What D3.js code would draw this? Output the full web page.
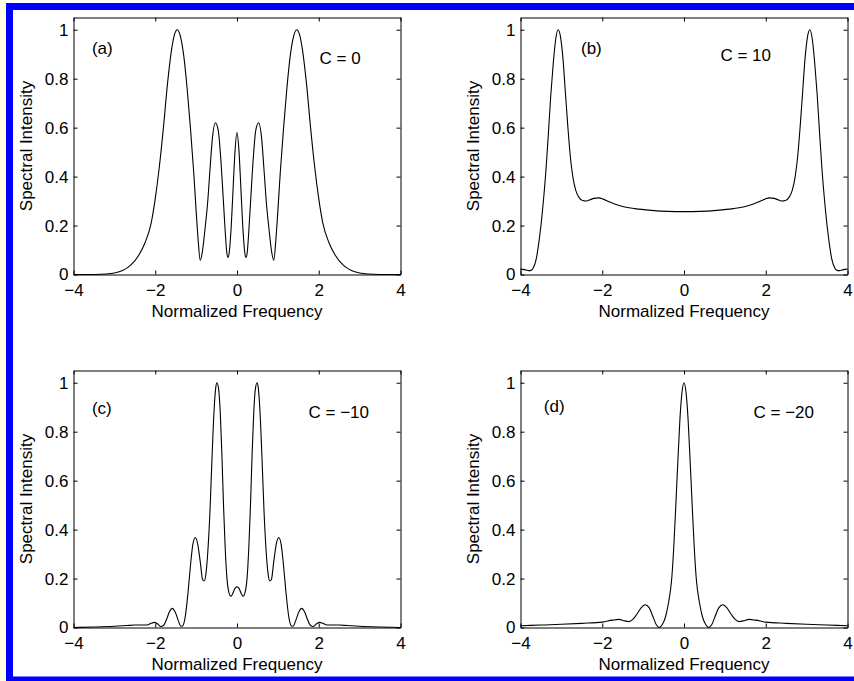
<!DOCTYPE html>
<html>
<head>
<meta charset="utf-8">
<script src="https://cdn.jsdelivr.net/npm/d3@7"></script>
<style>
  html, body { margin: 0; padding: 0; background: #fff; }
  svg { display: block; }
  text { font-family: "Liberation Sans", Arial, Helvetica, sans-serif; fill: #000; }
</style>
</head>
<body>
<svg id="chart" width="854" height="681"></svg>
<script>
// ---------------- data ----------------
const xTicks = [-4, -2, 0, 2, 4];
const yTicks = [0, 0.2, 0.4, 0.6, 0.8, 1];
const xTickLabels = ["\u22124", "\u22122", "0", "2", "4"];
const yTickLabels = ["0", "0.2", "0.4", "0.6", "0.8", "1"];
const panelTags = ["(a)", "(b)", "(c)", "(d)"];
const chirpLabels = ["C = 0", "C = 10", "C = \u221210", "C = \u221220"];
const xTitle = "Normalized Frequency";
const yTitle = "Spectral Intensity";

// Panel (a) C = 0
const freqA = [-4.0, -3.5, -3.2, -3.0, -2.8, -2.6, -2.4, -2.25, -2.1, -2.0, -1.9, -1.8, -1.7, -1.6, -1.53, -1.46, -1.38, -1.3, -1.22, -1.14, -1.06, -1.0, -0.95, -0.9, -0.85, -0.78, -0.72, -0.66, -0.6, -0.53, -0.46, -0.4, -0.34, -0.29, -0.25, -0.22, -0.19, -0.14, -0.09, -0.05, 0,
               0.05, 0.09, 0.14, 0.19, 0.22, 0.25, 0.29, 0.34, 0.4, 0.46, 0.53, 0.6, 0.66, 0.72, 0.78, 0.85, 0.9, 0.95, 1.0, 1.06, 1.14, 1.22, 1.3, 1.38, 1.46, 1.53, 1.6, 1.7, 1.8, 1.9, 2.0, 2.1, 2.25, 2.4, 2.6, 2.8, 3.0, 3.2, 3.5, 4.0];
const specA = [0, 0.0003, 0.002, 0.006, 0.016, 0.038, 0.08, 0.13, 0.21, 0.31, 0.44, 0.60, 0.78, 0.92, 0.98, 1.0, 0.97, 0.89, 0.76, 0.60, 0.42, 0.26, 0.14, 0.058, 0.09, 0.19, 0.29, 0.43, 0.56, 0.62, 0.59, 0.48, 0.32, 0.18, 0.09, 0.07, 0.09, 0.2, 0.37, 0.5, 0.58,
               0.5, 0.37, 0.2, 0.09, 0.07, 0.09, 0.18, 0.32, 0.48, 0.59, 0.62, 0.56, 0.43, 0.29, 0.19, 0.09, 0.058, 0.14, 0.26, 0.42, 0.60, 0.76, 0.89, 0.97, 1.0, 0.98, 0.92, 0.78, 0.60, 0.44, 0.31, 0.21, 0.13, 0.08, 0.038, 0.016, 0.006, 0.002, 0.0003, 0];

// Panel (b) C = 10
const freqB = [-4.0, -3.9, -3.8, -3.74, -3.68, -3.62, -3.56, -3.5, -3.44, -3.38, -3.32, -3.26, -3.2, -3.14, -3.08, -3.02, -2.96, -2.9, -2.84, -2.78, -2.72, -2.65, -2.57, -2.48, -2.4, -2.32, -2.2, -2.09, -1.98, -1.85, -1.7, -1.5, -1.2, -0.8, -0.4, 0,
               0.4, 0.8, 1.2, 1.5, 1.7, 1.85, 1.98, 2.09, 2.2, 2.32, 2.4, 2.48, 2.57, 2.65, 2.72, 2.78, 2.84, 2.9, 2.96, 3.02, 3.08, 3.14, 3.2, 3.26, 3.32, 3.38, 3.44, 3.5, 3.56, 3.62, 3.68, 3.74, 3.8, 3.9, 4.0];
const specB = [0.022, 0.02, 0.016, 0.017, 0.03, 0.06, 0.12, 0.2, 0.3, 0.42, 0.57, 0.73, 0.86, 0.96, 1.0, 0.97, 0.88, 0.74, 0.6, 0.48, 0.4, 0.345, 0.315, 0.302, 0.3, 0.304, 0.311, 0.313, 0.308, 0.298, 0.288, 0.278, 0.269, 0.262, 0.258, 0.257,
               0.258, 0.262, 0.269, 0.278, 0.288, 0.298, 0.308, 0.313, 0.311, 0.304, 0.3, 0.302, 0.315, 0.345, 0.4, 0.48, 0.6, 0.74, 0.88, 0.97, 1.0, 0.96, 0.86, 0.73, 0.57, 0.42, 0.3, 0.2, 0.12, 0.06, 0.03, 0.017, 0.016, 0.02, 0.022];

// Panel (c) C = -10
const freqC = [-4.0, -3.5, -3.0, -2.7, -2.5, -2.35, -2.2, -2.1, -2.02, -1.94, -1.86, -1.8, -1.72, -1.65, -1.58, -1.51, -1.44, -1.37, -1.33, -1.27, -1.2, -1.14, -1.08, -1.02, -0.96, -0.9, -0.84, -0.8, -0.76, -0.71, -0.66, -0.61, -0.56, -0.52, -0.49, -0.45, -0.41, -0.37, -0.33, -0.29, -0.25, -0.2, -0.15, -0.1, -0.05, 0,
               0.05, 0.1, 0.15, 0.2, 0.25, 0.29, 0.33, 0.37, 0.41, 0.45, 0.49, 0.52, 0.56, 0.61, 0.66, 0.71, 0.76, 0.8, 0.84, 0.9, 0.96, 1.02, 1.08, 1.14, 1.2, 1.27, 1.33, 1.37, 1.44, 1.51, 1.58, 1.65, 1.72, 1.8, 1.86, 1.94, 2.02, 2.1, 2.2, 2.35, 2.5, 2.7, 3.0, 3.5, 4.0];
const specC = [0, 0.002, 0.005, 0.008, 0.01, 0.01, 0.01, 0.017, 0.021, 0.014, 0.004, 0.008, 0.035, 0.065, 0.078, 0.062, 0.03, 0.005, 0.006, 0.04, 0.14, 0.25, 0.34, 0.368, 0.34, 0.27, 0.195, 0.19, 0.22, 0.32, 0.48, 0.7, 0.89, 0.98, 1.0, 0.975, 0.88, 0.71, 0.5, 0.33, 0.21, 0.145, 0.128, 0.14, 0.16, 0.166,
               0.16, 0.14, 0.128, 0.145, 0.21, 0.33, 0.5, 0.71, 0.88, 0.975, 1.0, 0.98, 0.89, 0.7, 0.48, 0.32, 0.22, 0.19, 0.195, 0.27, 0.34, 0.368, 0.34, 0.25, 0.14, 0.04, 0.006, 0.005, 0.03, 0.062, 0.078, 0.065, 0.035, 0.008, 0.004, 0.014, 0.021, 0.017, 0.01, 0.01, 0.01, 0.008, 0.005, 0.002, 0];

// Panel (d) C = -20
const freqD = [-4.0, -3.5, -3.0, -2.5, -2.0, -1.75, -1.6, -1.45, -1.35, -1.25, -1.15, -1.05, -0.95, -0.85, -0.76, -0.68, -0.61, -0.53, -0.45, -0.38, -0.3, -0.25, -0.2, -0.15, -0.1, -0.05, 0,
               0.05, 0.1, 0.15, 0.2, 0.25, 0.3, 0.38, 0.45, 0.53, 0.61, 0.68, 0.76, 0.85, 0.95, 1.05, 1.15, 1.25, 1.35, 1.45, 1.6, 1.75, 2.0, 2.5, 3.0, 3.5, 4.0];
const specD = [0.007, 0.01, 0.013, 0.017, 0.022, 0.03, 0.033, 0.027, 0.024, 0.033, 0.055, 0.08, 0.093, 0.08, 0.045, 0.012, 0.0, 0.012, 0.045, 0.1, 0.2, 0.33, 0.5, 0.68, 0.85, 0.96, 1.0,
               0.96, 0.85, 0.68, 0.5, 0.33, 0.2, 0.1, 0.045, 0.012, 0.0, 0.012, 0.045, 0.08, 0.093, 0.08, 0.055, 0.033, 0.024, 0.027, 0.033, 0.03, 0.022, 0.017, 0.013, 0.01, 0.007];

// annotation anchor positions in data coordinates
const tagPos = [[-3.55, 0.9], [-2.52, 0.9], [-3.55, 0.872], [-3.43, 0.88]];
const chirpPos = [[2.02, 0.862], [0.89, 0.872], [1.75, 0.855], [1.70, 0.856]];

// ---------------- layout ----------------
const svg = d3.select("#chart");
const FONT = 17;

// page decoration (blue frame)
svg.append("rect").attr("x", 0).attr("y", 0).attr("width", 854).attr("height", 681).attr("fill", "#ffffff");
svg.append("rect").attr("x", 0).attr("y", 0).attr("width", 6).attr("height", 681).attr("fill", "#fffde4");
svg.append("rect").attr("x", 6).attr("y", 3).attr("width", 848).attr("height", 7).attr("fill", "#0000ff");
svg.append("rect").attr("x", 6).attr("y", 3).attr("width", 7).attr("height", 678).attr("fill", "#0000ff");
svg.append("rect").attr("x", 6).attr("y", 676.5).attr("width", 848).attr("height", 4.5).attr("fill", "#0000ff");

const cols = [[73.5, 400.5], [520.5, 847.5]];
const rows = [[17.5, 274.5], [370.5, 627.5]];

const panels = [
  {fx: freqA, fy: specA, col: 0, row: 0},
  {fx: freqB, fy: specB, col: 1, row: 0},
  {fx: freqC, fy: specC, col: 0, row: 1},
  {fx: freqD, fy: specD, col: 1, row: 1}
];

panels.forEach((p, i) => {
  const [x0, x1] = cols[p.col];
  const [y0, y1] = rows[p.row];
  const x = d3.scaleLinear().domain([-4, 4]).range([x0, x1]);
  const y = d3.scaleLinear().domain([0, 1.05]).range([y1, y0]);
  const g = svg.append("g");

  // axes with inward ticks on all four sides
  const bottom = g.append("g").attr("transform", `translate(0,${y1})`)
    .call(d3.axisBottom(x).tickValues(xTicks).tickSizeInner(-4).tickSizeOuter(0).tickPadding(9.5)
      .tickFormat((d, k) => xTickLabels[k]));
  const top = g.append("g").attr("transform", `translate(0,${y0})`)
    .call(d3.axisTop(x).tickValues(xTicks).tickSizeInner(-4).tickSizeOuter(0).tickFormat(""));
  const left = g.append("g").attr("transform", `translate(${x0},0)`)
    .call(d3.axisLeft(y).tickValues(yTicks).tickSizeInner(-4).tickSizeOuter(0).tickPadding(5)
      .tickFormat((d, k) => yTickLabels[k]));
  const right = g.append("g").attr("transform", `translate(${x1},0)`)
    .call(d3.axisRight(y).tickValues(yTicks).tickSizeInner(-4).tickSizeOuter(0).tickFormat(""));

  [bottom, top, left, right].forEach(a => {
    a.selectAll("path.domain").attr("stroke", "#000").attr("stroke-width", 1);
    a.selectAll(".tick line").attr("stroke", "#000").attr("stroke-width", 1);
    a.selectAll("text").attr("font-size", FONT).attr("font-family", "'Liberation Sans', Arial, sans-serif").attr("fill", "#000");
  });

  // axis titles
  g.append("text")
    .attr("x", (x0 + x1) / 2).attr("y", y1 + 42.3)
    .attr("text-anchor", "middle").attr("font-size", FONT)
    .text(xTitle);
  g.append("text")
    .attr("transform", `translate(${x0 - 42},${(y0 + y1) / 2}) rotate(-90)`)
    .attr("text-anchor", "middle").attr("font-size", FONT)
    .text(yTitle);

  // curve
  const pts = p.fx.map((v, k) => [v, p.fy[k]]);
  const line = d3.line().x(d => x(d[0])).y(d => y(d[1])).curve(d3.curveMonotoneX);
  g.append("path").datum(pts)
    .attr("d", line)
    .attr("fill", "none").attr("stroke", "#000").attr("stroke-width", 1.1);

  // annotations
  g.append("text").attr("x", x(tagPos[i][0])).attr("y", y(tagPos[i][1]))
    .attr("font-size", FONT).text(panelTags[i]);
  g.append("text").attr("x", x(chirpPos[i][0])).attr("y", y(chirpPos[i][1]))
    .attr("font-size", FONT).text(chirpLabels[i]);
});
</script>
</body>
</html>
